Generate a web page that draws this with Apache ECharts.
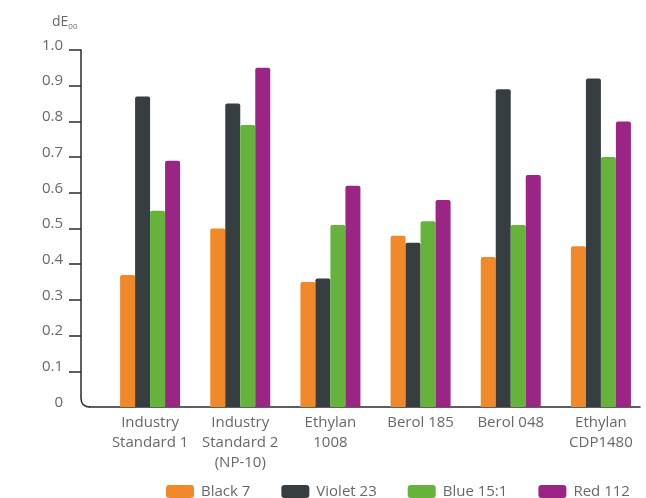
<!DOCTYPE html>
<html>
<head>
<meta charset="utf-8">
<script src="https://cdn.jsdelivr.net/npm/echarts@6/dist/echarts.min.js"></script>
<style>html,body{margin:0;padding:0;background:#fff}#c{width:646px;height:498px}</style>
</head>
<body>
<div id="c"></div>
<script>
var categories = ['Industry\nStandard 1', 'Industry\nStandard 2\n(NP-10)', 'Ethylan\n1008', 'Berol 185', 'Berol 048', 'Ethylan\nCDP1480'];
var seriesNames = ['Black 7', 'Violet 23', 'Blue 15:1', 'Red 112'];
var black7 = [0.37, 0.50, 0.35, 0.48, 0.42, 0.45];
var violet23 = [0.87, 0.85, 0.36, 0.46, 0.89, 0.92];
var blue151 = [0.55, 0.79, 0.51, 0.52, 0.51, 0.70];
var red112 = [0.69, 0.95, 0.62, 0.58, 0.65, 0.80];
var yTicks = [0.1, 0.2, 0.3, 0.4, 0.5, 0.6, 0.7, 0.8, 0.9, 1.0];
var colors = ['#f0892a', '#373e42', '#66b33c', '#9b2585'];

var font = 'Open Sans';
var textColor = '#67686a';
var axisColor = '#2b2b2b';
var values = [black7, violet23, blue151, red112];
var series = seriesNames.map(function (n, i) {
  return {
    name: n, type: 'bar', xAxisIndex: 1, yAxisIndex: 1,
    data: values[i], barWidth: 15, barGap: '0%',
    itemStyle: { color: colors[i], borderRadius: [2, 2, 0, 0] }
  };
});

var chart = echarts.init(document.getElementById('c'));
chart.setOption({
  animation: false,
  color: colors,
  title: {
    text: '{a|dE}{b|00}', left: 47, top: 10,
    textStyle: { fontWeight: 'normal', rich: {
      a: { fontFamily: font, fontSize: 14, fontWeight: 'normal', color: textColor, verticalAlign: 'bottom' },
      b: { fontFamily: font, fontSize: 8, fontWeight: 'normal', color: textColor, verticalAlign: 'bottom', padding: [0, 0, -2, 0] }
    } }
  },
  legend: {
    data: seriesNames, left: 161, top: 479, itemWidth: 28, itemHeight: 13, itemGap: 31,
    icon: 'roundRect',
    textStyle: { fontFamily: font, fontSize: 15, color: textColor, padding: [0, 0, 0, 2] }
  },
  grid: [
    { left: 81, right: 6, top: 50, bottom: 91 },
    { left: 105, right: -10, top: 50, bottom: 91 }
  ],
  xAxis: [
    { type: 'value', gridIndex: 0, min: 0, max: 1, show: true,
      axisLine: { show: true, onZero: false, lineStyle: { color: axisColor, width: 1.5 } },
      axisTick: { show: false }, axisLabel: { show: false }, splitLine: { show: false } },
    { type: 'category', gridIndex: 1, data: categories,
      axisLine: { show: false }, axisTick: { show: false },
      axisLabel: { interval: 0, margin: 6, fontFamily: font, fontSize: 15, lineHeight: 20, color: textColor } }
  ],
  yAxis: [
    { type: 'value', gridIndex: 0, min: 0, max: 1, interval: 0.1,
      axisLine: { show: true, lineStyle: { color: axisColor, width: 1.5 } },
      axisTick: { show: true, length: 12, customValues: yTicks, lineStyle: { color: axisColor, width: 1.5 } },
      splitLine: { show: false },
      axisLabel: { margin: 18, fontFamily: font, fontSize: 15, color: textColor, verticalAlign: 'bottom', padding: [0, 0, -3, 0],
        formatter: function (v) { return v === 0 ? '0' : v.toFixed(1); } } },
    { type: 'value', gridIndex: 1, min: 0, max: 1, show: false }
  ],
  series: series
});

// rounded corner where the two axis lines meet
var o = chart.convertToPixel({ xAxisIndex: 0, yAxisIndex: 0 }, [0, 0]);
var r = 9;
chart.setOption({
  graphic: [
    { type: 'rect', shape: { x: o[0] - 2, y: o[1] - r, width: r + 1, height: r + 2 }, style: { fill: '#fff' }, z: 100 },
    { type: 'bezierCurve', shape: { x1: o[0], y1: o[1] - r, cpx1: o[0], cpy1: o[1], x2: o[0] + r, y2: o[1] },
      style: { stroke: axisColor, lineWidth: 1.5, fill: null }, z: 101 }
  ]
});
</script>
</body>
</html>
